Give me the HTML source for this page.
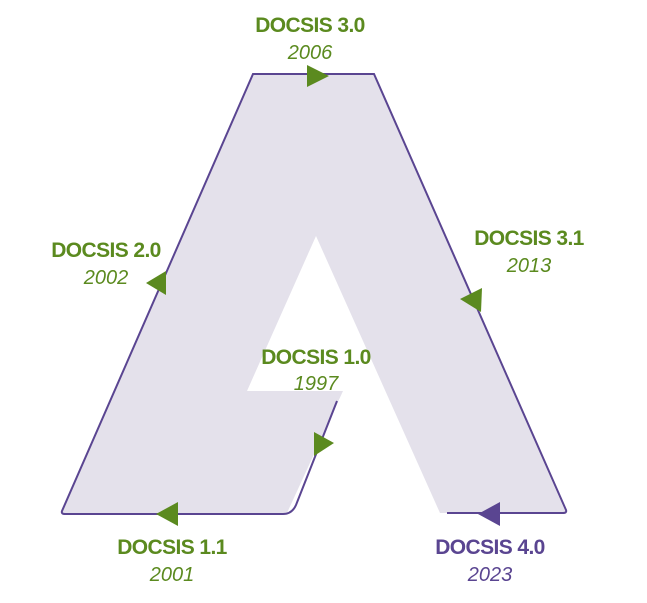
<!DOCTYPE html>
<html><head><style>
body{margin:0;background:#fff;width:647px;height:598px;overflow:hidden}
</style></head><body>
<svg width="647" height="598" xmlns="http://www.w3.org/2000/svg" font-family="Liberation Sans, sans-serif">
<polygon points="62,513 253,74 374,74 566,513 440,513 316,236 247,391 343,391 287,513" fill="#e4e1eb"/>
<path d="M447,513 L563,513 Q567,513 566,510 L374,74 L253,74 L62,511 Q61,514 65,514 L283,514 Q292,514 296,505 L337,401" fill="none" stroke="#5a4591" stroke-width="2"/>
<g fill="#5b8a1f">
<polygon points="307,65 329,76 307,87"/>
<polygon points="166,271 146,283 166,295"/>
<polygon points="482,288 460,299 481,312"/>
<polygon points="314,432 334,443 314,456"/>
<polygon points="178,502 156,514 178,526"/>
</g>
<polygon points="500,502 478,514 500,526" fill="#5a4591"/>
<g text-anchor="middle" fill="#5b8a1f">
<text x="310" y="32" font-weight="bold" font-size="21" letter-spacing="-0.6">DOCSIS 3.0</text>
<text x="310" y="59" font-style="italic" font-size="20">2006</text>
<text x="106" y="257" font-weight="bold" font-size="21" letter-spacing="-0.6">DOCSIS 2.0</text>
<text x="106" y="284" font-style="italic" font-size="20">2002</text>
<text x="529" y="245" font-weight="bold" font-size="21" letter-spacing="-0.6">DOCSIS 3.1</text>
<text x="529" y="272" font-style="italic" font-size="20">2013</text>
<text x="316" y="364" font-weight="bold" font-size="21" letter-spacing="-0.6">DOCSIS 1.0</text>
<text x="316" y="390" font-style="italic" font-size="20">1997</text>
<text x="172" y="554" font-weight="bold" font-size="21" letter-spacing="-0.6">DOCSIS 1.1</text>
<text x="172" y="581" font-style="italic" font-size="20">2001</text>
</g>
<g text-anchor="middle" fill="#5a4591">
<text x="490" y="554" font-weight="bold" font-size="21" letter-spacing="-0.6">DOCSIS 4.0</text>
<text x="490" y="581" font-style="italic" font-size="20">2023</text>
</g>
</svg>
</body></html>
